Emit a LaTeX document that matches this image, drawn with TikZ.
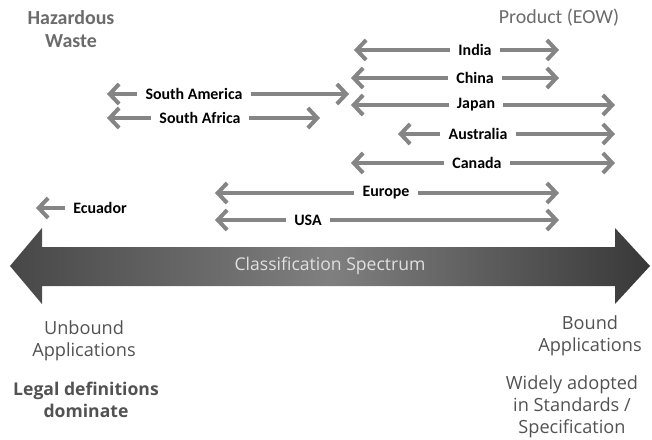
\documentclass[tikz,border=0pt]{standalone}
\usepackage{fontspec}
\setmainfont{Carlito}
\newfontfamily\lowfont{Open Sans}
\usetikzlibrary{arrows.meta}

\begin{document}
\begin{tikzpicture}[
  x=0.03cm, y=-0.03cm,
  every node/.style={font=\fontsize{13}{15}\selectfont},
  lbl/.style  = {font=\fontsize{13.6}{15}\selectfont\bfseries, fill=white, inner xsep=5pt, inner ysep=1pt},
  head/.style = {font=\fontsize{17}{20}\selectfont, text=black!58, align=center},
  low/.style  = {font=\lowfont\fontsize{15.5}{19}\selectfont, text=black!68, align=center},
  arr/.style  = {-{Straight Barb[length=8pt, width=17pt]}, line width=3.4pt, black!48, shorten <=2pt},
]
  \useasboundingbox (0,0) rectangle (652,439);

  % end points
  \node[head, font=\fontsize{17}{20}\selectfont\bfseries] (hw)  at (71,29)  {Hazardous\\Waste};
  \node[head]                                            (eow) at (559,18) {Product (EOW)};

  % country ranges
  \node[lbl] (india) at (475,50) {India};
  \coordinate (indiaW) at (354,50); \coordinate (indiaE) at (559,50);
  \draw[arr] (india) -- (indiaW);
  \draw[arr] (india) -- (indiaE);

  \node[lbl] (china) at (475,78) {China};
  \coordinate (chinaW) at (351,78); \coordinate (chinaE) at (559,78);
  \draw[arr] (china) -- (chinaW);
  \draw[arr] (china) -- (chinaE);

  \node[lbl] (japan) at (476,105) {Japan};
  \coordinate (japanW) at (351,105); \coordinate (japanE) at (615,105);
  \draw[arr] (japan) -- (japanW);
  \draw[arr] (japan) -- (japanE);

  \node[lbl] (aus) at (478,134) {Australia};
  \coordinate (ausW) at (398,134); \coordinate (ausE) at (615,134);
  \draw[arr] (aus) -- (ausW);
  \draw[arr] (aus) -- (ausE);

  \node[lbl] (canada) at (477,163) {Canada};
  \coordinate (canadaW) at (351,163); \coordinate (canadaE) at (615,163);
  \draw[arr] (canada) -- (canadaW);
  \draw[arr] (canada) -- (canadaE);

  \node[lbl] (samer) at (194,94) {South America};
  \coordinate (samerW) at (107,94); \coordinate (samerE) at (349,94);
  \draw[arr] (samer) -- (samerW);
  \draw[arr] (samer) -- (samerE);

  \node[lbl] (safr) at (200,118) {South Africa};
  \coordinate (safrW) at (107,118); \coordinate (safrE) at (320,118);
  \draw[arr] (safr) -- (safrW);
  \draw[arr] (safr) -- (safrE);

  \node[lbl] (europe) at (386,193) {Europe};
  \coordinate (europeW) at (215,193); \coordinate (europeE) at (559,193);
  \draw[arr] (europe) -- (europeW);
  \draw[arr] (europe) -- (europeE);

  \node[lbl] (usa) at (308,220) {USA};
  \coordinate (usaW) at (215,220); \coordinate (usaE) at (559,220);
  \draw[arr] (usa) -- (usaW);
  \draw[arr] (usa) -- (usaE);

  \node[lbl] (ecuador) at (100,208) {Ecuador};
  \coordinate (ecuadorW) at (36,208);
  \draw[arr] (ecuador) -- (ecuadorW);

  % spectrum
  \shade[left color=black!72, right color=black!78, middle color=black!50]
    (10,266) -- (42,228) -- (42,247) -- (615,247) -- (615,228) -- (650,266)
    -- (615,304) -- (615,286) -- (42,286) -- (42,304) -- cycle;
  \node[font=\lowfont\fontsize{15}{18}\selectfont, text=black!12] (spec) at (330,266) {Classification Spectrum};

  % captions
  \node[low] (unb)   at (84,341)  {Unbound\\Applications};
  \node[low, font=\lowfont\fontsize{15}{19}\selectfont\bfseries] (legal) at (86,400) {Legal definitions\\dominate};
  \node[low] (bnd)   at (590,336) {Bound\\Applications};
  \node[low] (std)   at (572,407) {Widely adopted\\in Standards /\\Specification};
\end{tikzpicture}
\end{document}
